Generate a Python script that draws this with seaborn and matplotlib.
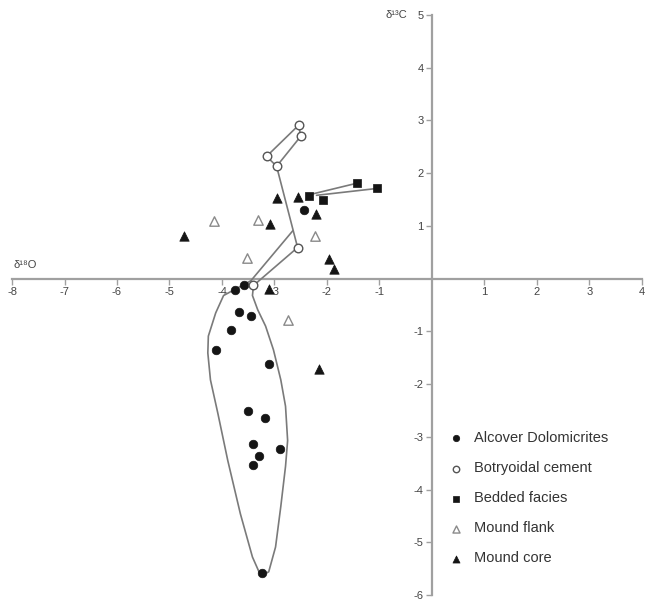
import matplotlib
matplotlib.use("Agg")
import matplotlib.pyplot as plt
import seaborn as sns
import pandas as pd

sns.set_theme(style="white")
plt.rcParams["font.family"] = ["Liberation Sans", "DejaVu Sans"]

# ---- data ----
alcover_x = [-2.44, -3.59, -3.76, -3.68, -3.44, -3.82, -4.12, -3.11, -3.51, -3.19, -3.40, -2.90, -3.30, -3.40, -3.23]
alcover_y = [1.30, -0.13, -0.21, -0.63, -0.70, -0.97, -1.35, -1.62, -2.51, -2.65, -3.14, -3.24, -3.37, -3.54, -5.58]

botry_x = [-2.54, -2.50, -3.15, -2.96, -2.56, -3.40]
botry_y = [2.91, 2.70, 2.32, 2.13, 0.59, -0.13]

bedded_x = [-2.35, -2.08, -1.43, -1.05]
bedded_y = [1.56, 1.50, 1.81, 1.71]

flank_x = [-4.16, -3.32, -2.23, -3.53, -2.75]
flank_y = [1.09, 1.12, 0.80, 0.40, -0.78]

core_x = [-2.96, -2.56, -2.21, -3.09, -4.73, -1.97, -1.87, -3.11, -2.16]
core_y = [1.52, 1.54, 1.22, 1.03, 0.80, 0.38, 0.19, -0.19, -1.71]

# trajectory of botryoidal cement samples
botry_path_x = [-3.40, -2.56, -2.96, -3.15, -2.54, -2.50, -2.96]
botry_path_y = [-0.13, 0.59, 2.13, 2.32, 2.91, 2.70, 2.13]

# trends among bedded facies
bedded_path1_x = [-2.30, -1.43]
bedded_path1_y = [1.60, 1.81]
bedded_path2_x = [-2.20, -1.05]
bedded_path2_y = [1.58, 1.71]

# envelope around Alcover Dolomitites
env_x = [-2.65, -3.45, -3.97, -4.12, -4.26, -4.27, -4.22, -4.08, -3.89, -3.65, -3.42, -3.26,
         -3.11, -2.98, -2.88, -2.79, -2.75, -2.79, -2.88, -3.02, -3.17, -3.32, -3.42, -3.40]
env_y = [0.91, -0.04, -0.32, -0.65, -1.09, -1.41, -1.92, -2.55, -3.45, -4.46, -5.28, -5.64,
         -5.56, -5.09, -4.32, -3.56, -3.07, -2.42, -1.92, -1.35, -0.90, -0.59, -0.32, -0.13]

x_ticks = [-8, -7, -6, -5, -4, -3, -2, -1, 1, 2, 3, 4]
y_ticks = [-6, -5, -4, -3, -2, -1, 1, 2, 3, 4, 5]
labels = ["Alcover Dolomicrites", "Botryoidal cement", "Bedded facies", "Mound flank", "Mound core"]

# ---- figure ----
fig = plt.figure(figsize=(6.45, 6.06), dpi=100)
ax = fig.add_axes([12 / 645, 11 / 606, 630 / 645, 580 / 606])

line_col = "#7a7a7a"
ink = "#151515"

def path(xs, ys):
    sns.lineplot(x=xs, y=ys, sort=False, estimator=None, color=line_col, lw=1.2, ax=ax, zorder=2)

path(env_x, env_y)
path(botry_path_x, botry_path_y)
path(bedded_path1_x, bedded_path1_y)
path(bedded_path2_x, bedded_path2_y)

sns.scatterplot(x=alcover_x, y=alcover_y, marker="o", s=38, color=ink, edgecolor=ink,
                linewidth=0.5, ax=ax, zorder=3, label=labels[0])
sns.scatterplot(x=botry_x, y=botry_y, marker="o", s=38, color="white", edgecolor="#555555",
                linewidth=1.0, ax=ax, zorder=3, label=labels[1])
sns.scatterplot(x=bedded_x, y=bedded_y, marker="s", s=40, color=ink, edgecolor=ink,
                linewidth=0.5, ax=ax, zorder=3, label=labels[2])
sns.scatterplot(x=flank_x, y=flank_y, marker="^", s=46, color="white", edgecolor="#8a8a8a",
                linewidth=1.0, ax=ax, zorder=3, label=labels[3])
sns.scatterplot(x=core_x, y=core_y, marker="^", s=46, color=ink, edgecolor=ink,
                linewidth=0.5, ax=ax, zorder=3, label=labels[4])

ax.set_xlim(-8, 4)
ax.set_ylim(-6, 5)
ax.set_xlabel("")
ax.set_ylabel("")

spine_col = "#a0a0a0"
for s in ["top", "right"]:
    ax.spines[s].set_visible(False)
ax.spines["left"].set_position(("data", 0))
ax.spines["bottom"].set_position(("data", 0))
for s in ["left", "bottom"]:
    ax.spines[s].set_color(spine_col)
    ax.spines[s].set_linewidth(1.6)
    ax.spines[s].set_zorder(1)

ax.set_xticks(x_ticks)
ax.set_xticklabels([str(t) for t in x_ticks])
ax.set_yticks(y_ticks)
ax.set_yticklabels([str(t) for t in y_ticks])
ax.tick_params(axis="both", direction="out", length=4, width=1.0, color=spine_col,
               labelsize=8, labelcolor="#444444", pad=2)
ax.tick_params(axis="x", bottom=True)
ax.tick_params(axis="y", left=True)

ax.text(-7.98, 0.25, "δ\u00b9\u2078O", fontsize=8, color="#444444", ha="left", va="center")
ax.text(-0.48, 5.0, "δ\u00b9\u00b3C", fontsize=8, color="#444444", ha="right", va="center")

leg = ax.legend(loc="upper left", bbox_to_anchor=(441 / 645, (606 - 424) / 606),
                bbox_transform=fig.transFigure, frameon=False, fontsize=10.5,
                handlelength=1.0, handletextpad=0.75, labelspacing=1.1, borderpad=0,
                markerscale=0.75)
for t in leg.get_texts():
    t.set_color("#333333")

fig.savefig("out.png", dpi=100)
